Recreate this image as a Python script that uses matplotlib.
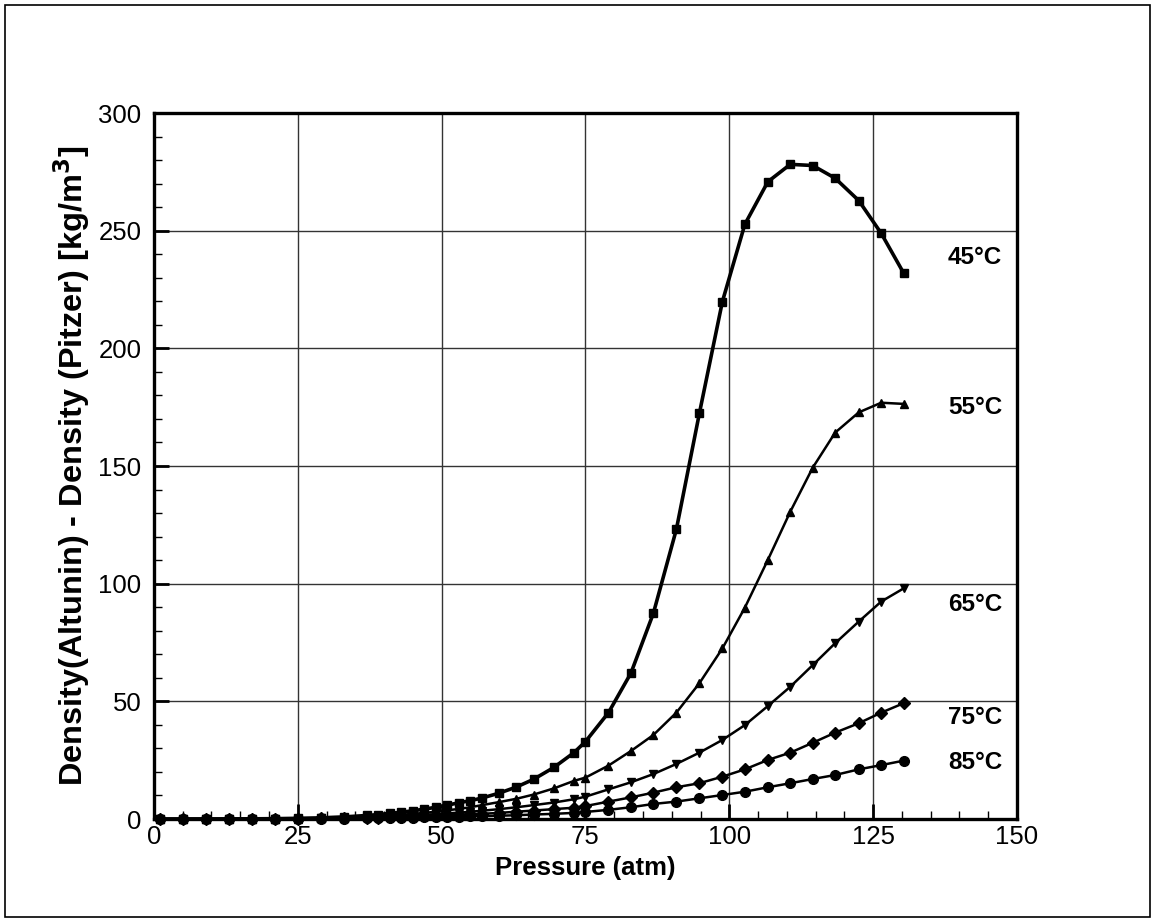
import numpy as np
import matplotlib.pyplot as plt
from matplotlib.patches import Rectangle
from matplotlib.ticker import MultipleLocator

plt.rcParams['font.family'] = ['Liberation Sans', 'DejaVu Sans']

# pressure points (atm), shared by every isotherm
pressure = [1, 5, 9, 13, 17, 21, 25, 29, 33, 37, 39, 41, 43, 45, 47, 49, 51, 53,
            55, 57, 60, 63, 66, 69.5, 73, 75, 79, 82.9, 86.8, 90.8, 94.8, 98.8,
            102.7, 106.7, 110.6, 114.5, 118.4, 122.5, 126.4, 130.3]

# density difference (kg/m^3) for each temperature
d45 = [0, 0.01, 0.02, 0.04, 0.08, 0.15, 0.3, 0.5, 0.9, 1.5, 1.9, 2.4, 2.9, 3.5,
       4.2, 5.0, 5.9, 6.9, 7.8, 8.9, 11.0, 13.6, 16.9, 21.9, 28.2, 32.9, 45.2,
       62.0, 87.4, 123.1, 172.4, 219.9, 252.7, 270.8, 278.2, 277.7, 272.3,
       262.8, 248.9, 232.0]
d55 = [0, 0, 0.01, 0.02, 0.05, 0.1, 0.2, 0.35, 0.6, 0.95, 1.2, 1.5, 1.8, 2.2,
       2.6, 3.1, 3.7, 4.3, 5.0, 5.9, 7.2, 8.6, 10.4, 13.0, 16.2, 17.6, 22.7,
       28.9, 35.7, 45.2, 57.7, 72.5, 89.8, 110.1, 130.6, 149.3, 164.2, 172.8,
       176.9, 176.4]
d65 = [0, 0, 0.01, 0.02, 0.05, 0.1, 0.18, 0.3, 0.5, 0.75, 0.9, 1.1, 1.3, 1.55,
       1.8, 2.1, 2.4, 2.7, 3.1, 3.5, 4.2, 5.0, 5.9, 7.0, 8.4, 9.5, 12.6, 15.6,
       19.1, 23.4, 28.2, 33.6, 39.9, 48.0, 56.2, 65.4, 74.7, 83.9, 92.4, 98.0]
d75 = [0, 0, 0, 0.01, 0.03, 0.07, 0.13, 0.22, 0.35, 0.5, 0.62, 0.75, 0.9, 1.05,
       1.2, 1.4, 1.6, 1.8, 2.0, 2.2, 2.6, 3.1, 3.6, 4.2, 4.8, 5.5, 7.4, 9.2,
       11.2, 13.5, 15.2, 18.0, 21.1, 25.1, 28.2, 32.4, 36.7, 40.7, 45.2, 49.2]
d85 = [0, 0, 0, 0.01, 0.02, 0.04, 0.08, 0.13, 0.2, 0.3, 0.38, 0.45, 0.5, 0.6,
       0.7, 0.8, 0.9, 1.0, 1.1, 1.2, 1.4, 1.6, 1.9, 2.2, 2.6, 3.0, 3.9, 5.0,
       6.4, 7.4, 8.8, 10.2, 11.6, 13.5, 15.2, 17.0, 18.7, 21.1, 22.9, 24.8]

labels = ['45°C', '55°C', '65°C', '75°C', '85°C']
label_y = [238.8, 174.7, 91.0, 43.3, 24.2]

fig = plt.figure(figsize=(11.55, 9.22), dpi=100)
ax = fig.add_axes([0.1333, 0.1117, 0.7472, 0.7657])

styles = [
    (d45, 's', 6, 2.6),
    (d55, '^', 6, 1.8),
    (d65, 'v', 6, 1.8),
    (d75, 'D', 6.5, 1.8),
    (d85, 'o', 7, 1.8),
]
for vals, mk, ms, lw in styles:
    ax.plot(pressure, vals, '-', color='black', marker=mk, markersize=ms,
            linewidth=lw, clip_on=False, zorder=3)

for txt, yv in zip(labels, label_y):
    ax.text(138.0, yv, txt, fontsize=17.5, fontweight='bold',
            ha='left', va='center')

ax.set_xlim(0, 150)
ax.set_ylim(0, 300)
ax.xaxis.set_major_locator(MultipleLocator(25))
ax.xaxis.set_minor_locator(MultipleLocator(5))
ax.yaxis.set_major_locator(MultipleLocator(50))
ax.yaxis.set_minor_locator(MultipleLocator(10))
ax.grid(True, which='major', color='#333333', linewidth=1.0)
ax.set_axisbelow(True)

ax.tick_params(which='major', direction='in', length=11, width=2, labelsize=18.5)
ax.tick_params(axis='y', which='major', pad=9)
ax.tick_params(axis='x', which='major', pad=4)
ax.tick_params(which='minor', direction='in', length=6, width=1)
for s in ax.spines.values():
    s.set_linewidth(2.4)

ax.set_xlabel('Pressure (atm)', fontsize=18.5, fontweight='bold', labelpad=5)
ax.set_ylabel('Density(Altunin) - Density (Pitzer) [kg/m$^\\mathbf{3}$]',
              fontsize=23.4, fontweight='bold', labelpad=4)

# thin frame around the whole figure
fig.patches.append(Rectangle((5 / 1155, 5 / 922), 1145 / 1155, 912 / 922,
                             transform=fig.transFigure, fill=False,
                             edgecolor='black', linewidth=1.2))

fig.savefig('out.png', dpi=100)
